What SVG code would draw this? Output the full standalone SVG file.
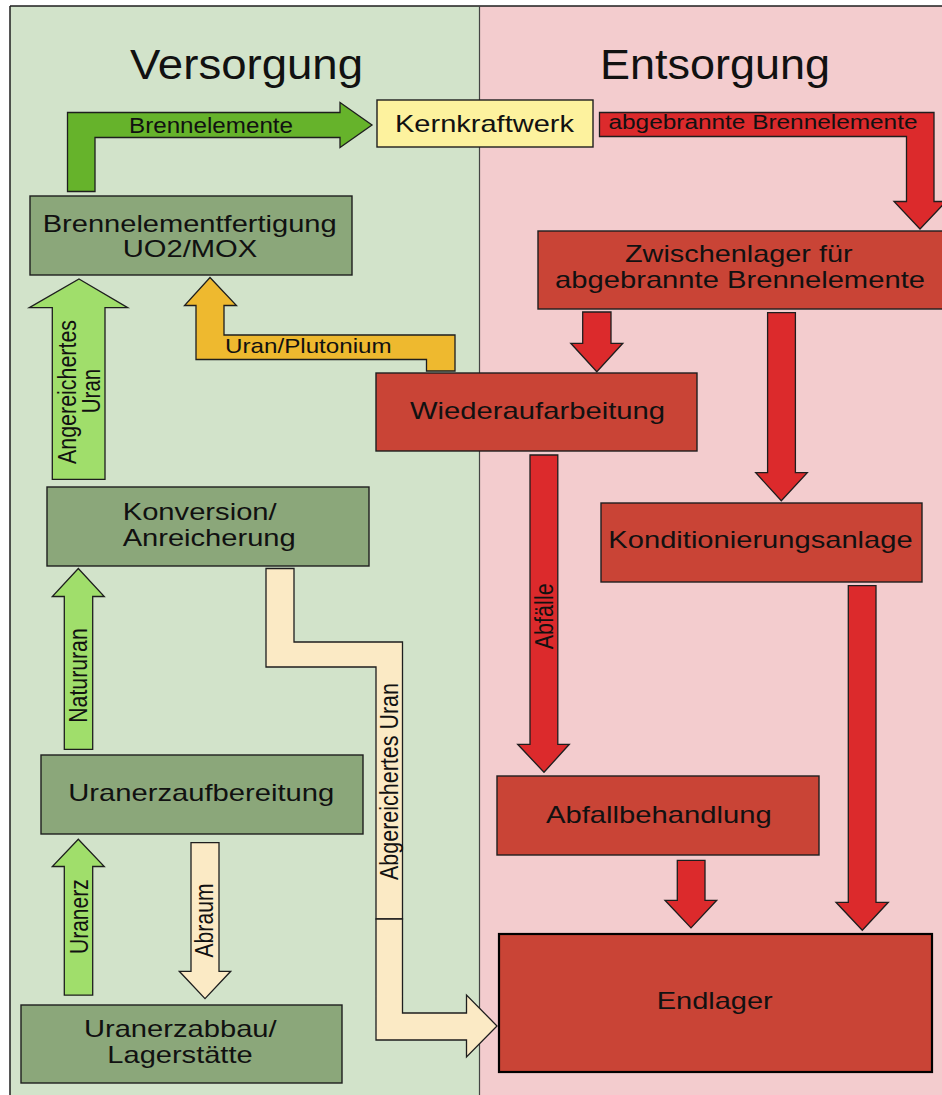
<svg xmlns="http://www.w3.org/2000/svg" width="942" height="1095" viewBox="0 0 942 1095">
<style>
.bg{stroke:none}
.node rect{stroke:#1e1e1e;stroke-width:1.4}
.g rect{fill:#8BA77A}
.r rect{fill:#C94436}
.t{font-family:"Liberation Sans",Arial,sans-serif;fill:#111;font-size:24px;text-anchor:middle}
.s{text-anchor:start}
.h{font-size:43px}
.v{font-size:26px}
.arr path{stroke:#1e1e1e;stroke-width:1.3;stroke-linejoin:miter}
.red{fill:#DC2A2C}
.lg{fill:#A0DE6B}
.dg{fill:#66B32B}
.or{fill:#EEB92F}
.bei{fill:#FBEAC5}
</style>
<rect class="bg" x="0" y="0" width="942" height="1095" fill="#ffffff"/>
<rect class="bg" x="10" y="6" width="470" height="1095" fill="#D2E3CA"/>
<rect class="bg" x="480" y="6" width="462" height="1095" fill="#F3CCCE"/>
<line x1="10" y1="6" x2="942" y2="6" stroke="#1e1e1e" stroke-width="1.5"/>
<line x1="10" y1="6" x2="10" y2="1095" stroke="#1e1e1e" stroke-width="1.5"/>
<line x1="479.5" y1="6" x2="479.5" y2="1095" stroke="#444" stroke-width="1.2"/>
<text class="t h" x="246.5" y="79" textLength="233" lengthAdjust="spacingAndGlyphs">Versorgung</text>
<text class="t h" x="715" y="79" textLength="230" lengthAdjust="spacingAndGlyphs">Entsorgung</text>

<g id="connectors" class="arr">
<path class="dg" d="M67.5,191.5 V112.5 H340 V102.5 L372,125 L340,147.5 V137.5 H95 V191.5 Z"/>
<text class="t" x="211" y="132.7" style="font-size:22px" textLength="164" lengthAdjust="spacingAndGlyphs">Brennelemente</text>
<path class="red" d="M599.5,112.5 H934 V201.5 H946 L920,229 L894,201.5 H906.5 V136.5 H599.5 Z"/>
<text class="t" x="763" y="129.3" style="font-size:20px" textLength="309" lengthAdjust="spacingAndGlyphs">abgebrannte Brennelemente</text>
<path class="or" d="M210,277.5 L236.5,305.5 H224 V335 H455 V371 H426.5 V359.5 H196 V305.5 H184.5 Z"/>
<text class="t s" x="225" y="353.3" style="font-size:21px" textLength="166.7" lengthAdjust="spacingAndGlyphs">Uran/Plutonium</text>
<path class="lg" d="M79,279 L127.7,307.7 H105 V479.3 H52.3 V307.7 H29.3 Z"/>
<text class="t v" transform="translate(76,392) rotate(-90)" textLength="144" lengthAdjust="spacingAndGlyphs">Angereichertes</text>
<text class="t v" transform="translate(100,391) rotate(-90)" textLength="44.3" lengthAdjust="spacingAndGlyphs">Uran</text>
<path class="lg" d="M78.3,568.5 L104.3,596.5 H92.7 V749.4 H64.3 V596.5 H52.3 Z"/>
<text class="t v" transform="translate(87.3,675.5) rotate(-90)" textLength="94.5" lengthAdjust="spacingAndGlyphs">Natururan</text>
<path class="lg" d="M78.3,839.2 L104.3,866.5 H92.7 V995.2 H64.3 V866.5 H52.3 Z"/>
<text class="t v" transform="translate(88.3,916.6) rotate(-90)" textLength="75" lengthAdjust="spacingAndGlyphs">Uranerz</text>
<path class="bei" d="M191,842.6 H219 V971.3 H230.7 L205,998.6 L179.3,971.3 H191 Z"/>
<text class="t v" transform="translate(213.3,920.5) rotate(-90)" textLength="74" lengthAdjust="spacingAndGlyphs">Abraum</text>
<path class="bei" d="M266,568.5 H294 V642 H402.5 V919 H376 V667 H266 Z"/>
<path class="bei" d="M376,919 H402.5 V1013 H466.5 V995 L497,1026 L466.5,1057 V1040 H376 Z"/>
<text class="t v" transform="translate(398.3,781.5) rotate(-90)" textLength="197" lengthAdjust="spacingAndGlyphs">Abgereichertes Uran</text>
<path class="red" d="M582.7,312 H611 V343.3 H622.8 L596.8,371.7 L570.8,343.3 H582.7 Z"/>
<path class="red" d="M767.6,312.7 H795.4 V472.7 H807.3 L781.3,500.7 L755.7,472.7 H767.6 Z"/>
<path class="red" d="M530,455 H557.8 V744.3 H569.3 L544,772.3 L517.7,744.3 H530 Z"/>
<text class="t v" transform="translate(553.3,616.3) rotate(-90)" textLength="66" lengthAdjust="spacingAndGlyphs">Abfälle</text>
<path class="red" d="M848.3,585.6 H876 V902.3 H888.3 L862.3,930.3 L836,902.3 H848.3 Z"/>
<path class="red" d="M677.3,860.3 H705 V900.3 H716.7 L691,927.9 L665,900.3 H677.3 Z"/>
</g>

<g id="kernkraftwerk" class="node">
<rect x="377" y="100" width="216" height="47" fill="#FDF29E"/>
<text class="t" x="484.5" y="131.7" textLength="179" lengthAdjust="spacingAndGlyphs">Kernkraftwerk</text>
</g>
<g id="brennelementfertigung" class="node g">
<rect x="30" y="196" width="322" height="79"/>
<text class="t" x="189.7" y="231.7" textLength="294" lengthAdjust="spacingAndGlyphs">Brennelementfertigung</text>
<text class="t" x="190" y="256.7" textLength="134.6" lengthAdjust="spacingAndGlyphs">UO2/MOX</text>
</g>
<g id="zwischenlager" class="node r">
<rect x="538" y="231" width="412" height="78"/>
<text class="t" x="738.8" y="262.3" textLength="227.7" lengthAdjust="spacingAndGlyphs">Zwischenlager für</text>
<text class="t" x="740" y="288.3" textLength="370" lengthAdjust="spacingAndGlyphs">abgebrannte Brennelemente</text>
</g>
<g id="wiederaufarbeitung" class="node r">
<rect x="376" y="373" width="321" height="78"/>
<text class="t" x="537.5" y="419" textLength="255" lengthAdjust="spacingAndGlyphs">Wiederaufarbeitung</text>
</g>
<g id="konditionierungsanlage" class="node r">
<rect x="601" y="503" width="321" height="79"/>
<text class="t" x="760.5" y="548.3" textLength="304.3" lengthAdjust="spacingAndGlyphs">Konditionierungsanlage</text>
</g>
<g id="konversion" class="node g">
<rect x="47" y="487" width="322" height="79"/>
<text class="t s" x="122.7" y="520" textLength="154" lengthAdjust="spacingAndGlyphs">Konversion/</text>
<text class="t s" x="122.7" y="546" textLength="173" lengthAdjust="spacingAndGlyphs">Anreicherung</text>
</g>
<g id="uranerzaufbereitung" class="node g">
<rect x="41" y="755" width="322" height="79"/>
<text class="t" x="201.3" y="801.3" textLength="266" lengthAdjust="spacingAndGlyphs">Uranerzaufbereitung</text>
</g>
<g id="abfallbehandlung" class="node r">
<rect x="497" y="776" width="322" height="79"/>
<text class="t" x="658.8" y="822.8" textLength="225.7" lengthAdjust="spacingAndGlyphs">Abfallbehandlung</text>
</g>
<g id="uranerzabbau" class="node g">
<rect x="21" y="1005" width="321" height="78"/>
<text class="t" x="180.3" y="1036.8" textLength="192.7" lengthAdjust="spacingAndGlyphs">Uranerzabbau/</text>
<text class="t" x="180" y="1063.4" textLength="145.3" lengthAdjust="spacingAndGlyphs">Lagerstätte</text>
</g>
<g id="endlager" class="node r">
<rect x="499" y="934" width="433" height="138" style="stroke:#000;stroke-width:2.2"/>
<text class="t" x="714.7" y="1009.3" textLength="116" lengthAdjust="spacingAndGlyphs">Endlager</text>
</g>
</svg>
